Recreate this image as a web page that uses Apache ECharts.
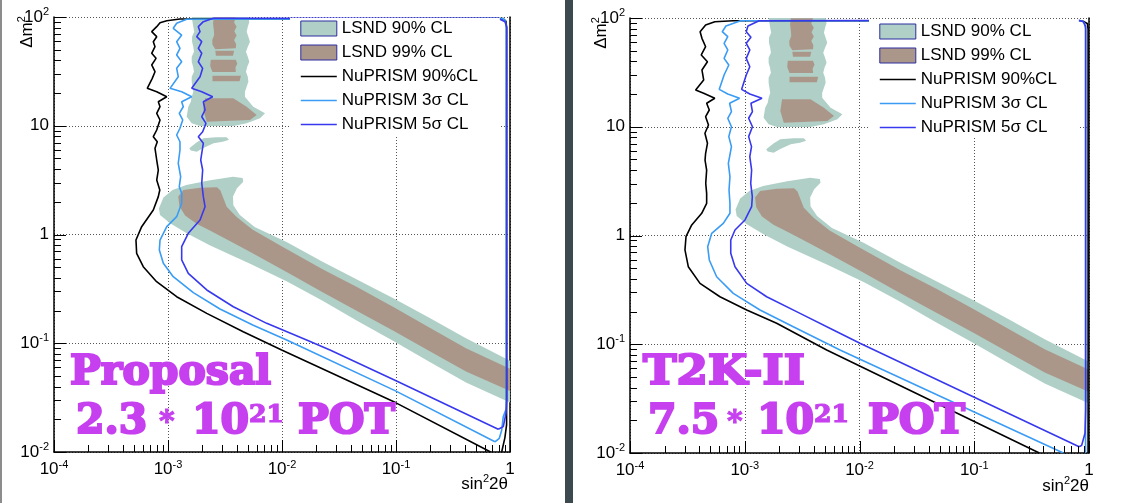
<!DOCTYPE html>
<html><head><meta charset="utf-8">
<script src="https://cdn.jsdelivr.net/npm/echarts@6/dist/echarts.min.js"></script>
<style>html,body{margin:0;padding:0;background:#fff}#c{width:1138px;height:503px}</style>
</head><body><div id="c"></div>
<script>
// ===== DATA : points are [log10(sin²2θ), log10(Δm²)] =====
const xTickValues = [1e-4, 1e-3, 1e-2, 1e-1, 1];
const xTickBase = ['10', '10', '10', '10', '1'];
const xTickExp = ['-4', '-3', '-2', '-1', ''];
const yTickValues = [1e-2, 1e-1, 1, 10, 100];
const yTickBase = ['10', '10', '1', '10', '10'];
const yTickExp = ['-2', '-1', '', '', '2'];
const minorMultipliers = [2, 3, 4, 5, 6, 7, 8, 9];
const seriesNames = ['LSND 90% CL', 'LSND 99% CL', 'NuPRISM 90%CL', 'NuPRISM 3σ CL', 'NuPRISM 5σ CL'];
const panelTitle = ['Proposal', 'T2K-II'];
const panelPotMantissa = ['2.3', '7.5'];
const panelPotExp = ['21', '21'];

// LSND allowed regions (same in both panels)
const lsnd90Upper = [[-2.792,2.0],[-2.295,2.0],[-2.287,1.955],[-2.300,1.911],[-2.31,1.865],[-2.295,1.819],[-2.281,1.773],[-2.300,1.727],[-2.316,1.681],[-2.30,1.635],[-2.287,1.589],[-2.305,1.543],[-2.316,1.497],[-2.30,1.451],[-2.295,1.405],[-2.31,1.359],[-2.325,1.313],[-2.325,1.267],[-2.252,1.175],[-2.149,1.114],[-2.193,1.068],[-2.31,1.022],[-2.427,0.998],[-2.719,0.998],[-2.792,1.022],[-2.836,1.083],[-2.822,1.175],[-2.800,1.221],[-2.792,1.267],[-2.778,1.313],[-2.785,1.359],[-2.792,1.405],[-2.792,1.451],[-2.772,1.497],[-2.780,1.543],[-2.792,1.589],[-2.792,1.635],[-2.772,1.681],[-2.778,1.727],[-2.789,1.773],[-2.789,1.819],[-2.770,1.865],[-2.778,1.911],[-2.785,1.955]];
const lsnd90Island = [[-2.813,0.793],[-2.75,0.845],[-2.69,0.885],[-2.58,0.895],[-2.485,0.894],[-2.465,0.872],[-2.52,0.852],[-2.60,0.838],[-2.69,0.795],[-2.748,0.761],[-2.80,0.772]];
const lsnd90Lower = [[-3.08,0.24],[-3.04,0.34],[-2.96,0.41],[-2.84,0.455],[-2.63,0.50],[-2.43,0.53],[-2.345,0.52],[-2.34,0.485],[-2.395,0.425],[-2.43,0.35],[-2.427,0.27],[-2.37,0.18],[-2.24,0.07],[-1.96,-0.07],[-1.644,-0.25],[-1.33,-0.42],[-1.015,-0.59],[-0.70,-0.77],[-0.386,-0.955],[0,-1.16],[0,-1.545],[-0.386,-1.36],[-0.70,-1.175],[-1.015,-0.985],[-1.33,-0.80],[-1.644,-0.61],[-1.96,-0.43],[-2.28,-0.27],[-2.63,-0.10],[-2.836,0.011],[-2.982,0.103],[-3.07,0.179]];
const lsnd99UpperA = [[-2.598,1.997],[-2.405,1.997],[-2.420,1.95],[-2.398,1.911],[-2.418,1.87],[-2.398,1.83],[-2.420,1.789],[-2.402,1.75],[-2.405,1.712],[-2.585,1.703],[-2.610,1.745],[-2.612,1.789],[-2.595,1.835],[-2.598,1.880],[-2.605,1.94]];
const lsnd99UpperB = [[-2.585,1.690],[-2.42,1.690],[-2.43,1.643],[-2.58,1.643]];
const lsnd99UpperC = [[-2.625,1.607],[-2.405,1.607],[-2.392,1.57],[-2.408,1.535],[-2.405,1.495],[-2.61,1.495],[-2.63,1.55]];
const lsnd99UpperD = [[-2.610,1.460],[-2.360,1.460],[-2.372,1.410],[-2.61,1.410]];
const lsnd99UpperE = [[-2.675,1.252],[-2.427,1.252],[-2.31,1.175],[-2.222,1.099],[-2.281,1.053],[-2.66,1.037],[-2.69,1.145]];
const lsnd99Lower = [[-2.91,0.35],[-2.866,0.41],[-2.72,0.43],[-2.57,0.434],[-2.54,0.405],[-2.52,0.35],[-2.485,0.256],[-2.40,0.164],[-2.26,0.045],[-2.0,-0.11],[-1.644,-0.32],[-1.33,-0.49],[-1.015,-0.672],[-0.70,-0.86],[-0.386,-1.045],[0,-1.235],[0,-1.44],[-0.386,-1.26],[-0.70,-1.075],[-1.015,-0.89],[-1.33,-0.71],[-1.644,-0.53],[-1.96,-0.345],[-2.27,-0.165],[-2.45,-0.065],[-2.62,0.03],[-2.75,0.10],[-2.85,0.175],[-2.9,0.26]];

// NuPRISM sensitivity contours, left panel (Proposal 2.3e21 POT)
const black90L = [[-0.17,-2.0],[-1.0,-1.548],[-2.003,-1.062],[-2.34,-0.894],[-2.66,-0.725],[-2.924,-0.572],[-3.10,-0.434],[-3.217,-0.296],[-3.275,-0.173],[-3.281,-0.051],[-3.231,0.072],[-3.129,0.225],[-3.085,0.348],[-3.072,0.409],[-3.099,0.501],[-3.085,0.593],[-3.099,0.685],[-3.114,0.793],[-3.094,0.853],[-3.129,0.899],[-3.099,0.961],[-3.07,1.053],[-3.099,1.114],[-3.07,1.175],[-3.085,1.221],[-3.011,1.267],[-3.099,1.313],[-3.182,1.344],[-3.138,1.436],[-3.114,1.497],[-3.143,1.559],[-3.105,1.620],[-3.143,1.666],[-3.114,1.727],[-3.129,1.773],[-3.099,1.819],[-3.143,1.865],[-3.099,1.911],[-3.07,1.948],[-3.011,1.966],[-2.895,1.982],[-0.06,1.985],[-0.035,1.96],[-0.03,1.9],[-0.03,-1.75],[-0.045,-1.87],[-0.073,-2.0]];
const light3L = [[-0.132,-1.906],[-1.0,-1.44],[-1.959,-0.97],[-2.252,-0.835],[-2.544,-0.685],[-2.778,-0.535],[-2.954,-0.388],[-3.041,-0.265],[-3.076,-0.143],[-3.070,-0.051],[-3.011,0.072],[-2.924,0.164],[-2.880,0.287],[-2.880,0.379],[-2.901,0.44],[-2.889,0.532],[-2.910,0.655],[-2.895,0.777],[-2.895,0.853],[-2.924,0.915],[-2.895,0.977],[-2.871,1.053],[-2.901,1.114],[-2.866,1.175],[-2.880,1.221],[-2.792,1.267],[-2.880,1.313],[-2.982,1.344],[-2.910,1.451],[-2.924,1.528],[-2.880,1.589],[-2.924,1.651],[-2.895,1.712],[-2.924,1.773],[-2.880,1.834],[-2.954,1.896],[-2.924,1.942],[-2.836,1.979],[-0.06,1.985],[-0.04,1.96],[-0.032,1.9],[-0.032,-1.6],[-0.059,-1.675],[-0.073,-1.8],[-0.094,-1.874],[-0.132,-1.906]];
const blue5L = [[-0.103,-1.791],[-1.0,-1.345],[-1.579,-1.062],[-1.784,-0.970],[-2.134,-0.817],[-2.427,-0.664],[-2.660,-0.510],[-2.822,-0.357],[-2.880,-0.234],[-2.880,-0.112],[-2.822,0.011],[-2.719,0.133],[-2.675,0.256],[-2.690,0.348],[-2.704,0.471],[-2.696,0.593],[-2.713,0.685],[-2.704,0.747],[-2.690,0.839],[-2.734,0.899],[-2.696,0.945],[-2.667,1.022],[-2.704,1.083],[-2.675,1.145],[-2.690,1.221],[-2.608,1.267],[-2.704,1.313],[-2.792,1.344],[-2.719,1.451],[-2.696,1.528],[-2.734,1.589],[-2.704,1.666],[-2.734,1.712],[-2.704,1.773],[-2.748,1.819],[-2.719,1.865],[-2.734,1.911],[-2.690,1.957],[-2.603,1.988],[-0.105,1.988],[-0.044,1.957],[-0.029,1.911],[-0.029,-1.52],[-0.035,-1.644],[-0.059,-1.767],[-0.103,-1.791]];

// NuPRISM sensitivity contours, right panel (T2K-II 7.5e21 POT)
const black90R = [[-0.433,-2.0],[-1.0,-1.71],[-2.286,-1.053],[-2.722,-0.807],[-2.983,-0.685],[-3.216,-0.563],[-3.390,-0.440],[-3.492,-0.287],[-3.521,-0.133],[-3.512,-0.011],[-3.462,0.097],[-3.375,0.204],[-3.332,0.296],[-3.332,0.388],[-3.340,0.480],[-3.332,0.602],[-3.346,0.694],[-3.341,0.756],[-3.325,0.848],[-3.347,0.940],[-3.316,1.016],[-3.341,1.093],[-3.309,1.154],[-3.332,1.216],[-3.261,1.262],[-3.358,1.308],[-3.428,1.338],[-3.358,1.430],[-3.373,1.522],[-3.325,1.598],[-3.379,1.660],[-3.341,1.736],[-3.373,1.813],[-3.389,1.874],[-3.341,1.936],[-3.261,1.966],[-3.101,1.975],[-0.06,1.975],[-0.015,1.95],[-0.008,1.9],[-0.008,-2.0]];
const light3R = [[-0.224,-2.0],[-1.0,-1.623],[-2.170,-1.053],[-2.577,-0.839],[-2.867,-0.685],[-3.100,-0.532],[-3.245,-0.379],[-3.309,-0.225],[-3.323,-0.103],[-3.288,0.020],[-3.187,0.112],[-3.129,0.204],[-3.129,0.296],[-3.137,0.418],[-3.129,0.541],[-3.143,0.664],[-3.132,0.725],[-3.116,0.817],[-3.139,0.909],[-3.116,1.0],[-3.148,1.078],[-3.116,1.139],[-3.132,1.216],[-3.045,1.262],[-3.148,1.301],[-3.222,1.344],[-3.180,1.476],[-3.139,1.568],[-3.180,1.629],[-3.148,1.706],[-3.180,1.767],[-3.148,1.828],[-3.196,1.874],[-3.164,1.926],[-3.036,1.975],[-0.06,1.975],[-0.04,1.955],[-0.03,1.9],[-0.03,-2.0]];
const blue5R = [[-0.086,-1.942],[-1.0,-1.487],[-1.996,-0.991],[-2.228,-0.869],[-2.518,-0.716],[-2.809,-0.563],[-2.983,-0.440],[-3.085,-0.287],[-3.122,-0.164],[-3.122,-0.041],[-3.085,0.051],[-2.998,0.143],[-2.940,0.265],[-2.934,0.357],[-2.948,0.480],[-2.940,0.602],[-2.956,0.725],[-2.941,0.817],[-2.966,0.909],[-2.933,1.0],[-2.966,1.078],[-2.933,1.139],[-2.946,1.216],[-2.850,1.262],[-2.956,1.301],[-3.027,1.344],[-2.987,1.476],[-2.956,1.552],[-2.987,1.629],[-2.956,1.706],[-2.987,1.767],[-2.946,1.822],[-2.987,1.874],[-2.972,1.926],[-2.875,1.975],[-0.093,1.982],[-0.05,1.966],[-0.029,1.92],[-0.029,-1.605],[-0.035,-1.819],[-0.064,-1.93],[-0.086,-1.942]];

// ===== STYLE / LAYOUT =====
const FONT = 'Liberation Sans';
const C90 = '#b0d0c7', C99 = '#ab978a', CBLK = '#000000', CLB = '#3a9cf4', CBL = '#3838ee';
const PURPLE = '#c640ef';
const lsnd90Polys = [lsnd90Upper, lsnd90Island, lsnd90Lower];
const lsnd99Polys = [lsnd99UpperA, lsnd99UpperB, lsnd99UpperC, lsnd99UpperD, lsnd99UpperE, lsnd99Lower];
const panels = [
  {black: black90L, light: light3L, blue: blue5L},
  {black: black90R, light: light3R, blue: blue5R}
];
const grids = [
  {left: 54, top: 17, width: 456, height: 435},
  {left: 630, top: 18, width: 459, height: 435}
];
const p10 = v => Math.pow(10, v);
const toXY = pts => pts.map(p => [p10(p[0]), p10(p[1])]);
function minorOf(majors) {
  const out = [];
  for (let i = 0; i < majors.length - 1; i++) minorMultipliers.forEach(m => out.push(m * majors[i]));
  return out;
}
const xMinorTicks = minorOf(xTickValues), yMinorTicks = minorOf(yTickValues);

const richLbl = {
  b: {fontSize: 17, lineHeight: 21, fontFamily: FONT, color: '#000'},
  s: {fontSize: 11, lineHeight: 11, fontFamily: FONT, color: '#000', verticalAlign: 'top'}
};
function fmt(vals, base, exp) {
  return function (v) {
    const e = Math.round(Math.log10(v));
    const i = vals.findIndex(t => Math.round(Math.log10(t)) === e);
    if (i < 0) return '';
    return exp[i] ? '{b|' + base[i] + '}{s|' + exp[i] + '}' : '{b|' + base[i] + '}';
  };
}
const gridLine = {show: true, lineStyle: {color: '#555', width: 1, type: [1, 2]}};
function majorX(g) {
  return {type: 'log', logBase: 10, gridIndex: g, min: xTickValues[0], max: xTickValues[4], splitNumber: 4, position: 'bottom',
    axisLine: {show: true, onZero: false, lineStyle: {color: '#000', width: 1.5}},
    axisTick: {show: false}, minorTick: {show: false},
    axisLabel: {show: true, margin: 7, interval: 0, showMinLabel: true, showMaxLabel: true, formatter: fmt(xTickValues, xTickBase, xTickExp), rich: richLbl},
    splitLine: gridLine, minorSplitLine: {show: false}};
}
function majorY(g) {
  return {type: 'log', logBase: 10, gridIndex: g, min: yTickValues[0], max: yTickValues[4], splitNumber: 4, position: 'left',
    axisLine: {show: true, onZero: false, lineStyle: {color: '#000', width: 1.5}},
    axisTick: {show: false}, minorTick: {show: false},
    axisLabel: {show: true, margin: 5, interval: 0, showMinLabel: true, showMaxLabel: true, formatter: fmt(yTickValues, yTickBase, yTickExp), rich: richLbl},
    splitLine: gridLine, minorSplitLine: {show: false}};
}
function frameY(g) {
  return {type: 'value', gridIndex: g, min: 0, max: 1, position: 'right',
    axisLine: {show: true, onZero: false, lineStyle: {color: '#000', width: 1.5}},
    axisTick: {show: false}, axisLabel: {show: false}, splitLine: {show: false}};
}

function polySeries(name, polys, color, xi, yi) {
  return {
    type: 'custom', name: name, xAxisIndex: xi, yAxisIndex: yi, silent: true, clip: true, z: 1,
    itemStyle: {color: color},
    data: polys.map((p, i) => [p10(p[0][0]), p10(p[0][1]), i]),
    renderItem: function (params, api) {
      const poly = polys[api.value(2)];
      const pts = poly.map(pt => api.coord([p10(pt[0]), p10(pt[1])]));
      return {type: 'polygon', shape: {points: pts}, style: {fill: color}};
    }
  };
}
function lineSeries(name, pts, color, xi, yi) {
  return {type: 'line', name: name, xAxisIndex: xi, yAxisIndex: yi, data: toXY(pts),
    showSymbol: false, symbol: 'none', silent: true, clip: true, z: 3,
    lineStyle: {color: color, width: 1.6}, itemStyle: {color: color}};
}

const series = [];
panels.forEach((pn, k) => {
  const xi = k, yi = k * 2;
  series.push(polySeries(seriesNames[0], lsnd90Polys, C90, xi, yi));
  series.push(polySeries(seriesNames[1], lsnd99Polys, C99, xi, yi));
  series.push(lineSeries(seriesNames[2], pn.black, CBLK, xi, yi));
  series.push(lineSeries(seriesNames[3], pn.light, CLB, xi, yi));
  series.push(lineSeries(seriesNames[4], pn.blue, CBL, xi, yi));
});

const legendData = [
  {name: seriesNames[0], icon: 'rect', itemStyle: {color: C90, borderColor: '#2c2ca0', borderWidth: 1}},
  {name: seriesNames[1], icon: 'rect', itemStyle: {color: C99, borderColor: '#2c2ca0', borderWidth: 1}},
  {name: seriesNames[2], itemStyle: {opacity: 0}, lineStyle: {width: 1.6}},
  {name: seriesNames[3], itemStyle: {opacity: 0}, lineStyle: {width: 1.6}},
  {name: seriesNames[4], itemStyle: {opacity: 0}, lineStyle: {width: 1.6}}
];
function legend(left, top, padTop) {
  return {left: left, top: top, orient: 'vertical', padding: [padTop, 22, 2, 10], backgroundColor: '#fff',
    itemWidth: 36, itemHeight: 15, itemGap: 7, selectedMode: false, z: 10,
    textStyle: {fontSize: 17, fontFamily: FONT, color: '#000'}, data: legendData};
}

const BIG = 'bold 41px "DejaVu Serif"';
function txt(x, y, text, font, lw, extra) {
  return Object.assign({type: 'text', x: x, y: y, z: 100, silent: true,
    style: {text: text, font: font, fill: PURPLE, stroke: PURPLE, lineWidth: lw, align: 'left', textAlign: 'left', verticalAlign: 'middle', textVerticalAlign: 'middle'}}, extra || {});
}
const richAxisName = {
  a: {fontSize: 17, lineHeight: 21, fontFamily: FONT, fill: '#000'},
  s: {fontSize: 11, lineHeight: 11, fontFamily: FONT, fill: '#000', verticalAlign: 'top'}
};
function axisTitle(x, y, text, align, rot) {
  return {type: 'text', x: x, y: y, rotation: rot || 0, z: 100, silent: true,
    style: {text: text, rich: richAxisName, align: align, textAlign: align, verticalAlign: 'middle', textVerticalAlign: 'middle'}};
}
const potOffsets = [
  {x0: 70, x2: 76, star: 159, ten: 192, sup: 249, pot: 298, sc1: 1.0},
  {x0: 643, x2: 648, star: 727, ten: 757, sup: 814, pot: 868, sc1: 1.1}
];
const graphic = [
  {type: 'rect', shape: {x: 0, y: 0, width: 2, height: 503}, style: {fill: '#8c8c8c'}, z: 100, silent: true},
  {type: 'rect', shape: {x: 565, y: 0, width: 8, height: 503}, style: {fill: '#3c4a4f'}, z: 100, silent: true},
  axisTitle(508, 484, '{a|sin}{s|2}{a|2θ}', 'right'),
  axisTitle(1089, 486, '{a|sin}{s|2}{a|2θ}', 'right'),
  axisTitle(27, 32, '{a|Δm}{s|2}', 'center', Math.PI / 2),
  axisTitle(601, 33, '{a|Δm}{s|2}', 'center', Math.PI / 2)
];
potOffsets.forEach((o, k) => {
  graphic.push(txt(o.x0, 373, panelTitle[k], BIG, 2.2, {scaleX: o.sc1}));
  graphic.push(txt(o.x2, 422.5, panelPotMantissa[k], BIG, 2.2));
  graphic.push(txt(o.star, 423, '*', 'bold 30px "DejaVu Serif"', 1));
  graphic.push(txt(o.ten, 422.5, '10', BIG, 2.2));
  graphic.push(txt(o.sup, 416, panelPotExp[k], 'bold 24px "DejaVu Serif"', 1.2, {scaleX: 1.05}));
  graphic.push(txt(o.pot, 422.5, 'POT', BIG, 2.2));
});

const chart = echarts.init(document.getElementById('c'), null, {renderer: 'canvas'});
chart.setOption({
  animation: false,
  backgroundColor: '#ffffff',
  grid: grids,
  xAxis: [majorX(0), majorX(1)],
  yAxis: [majorY(0), frameY(0), majorY(1), frameY(1)],
  legend: [legend(290, 18, 2), legend(869, 19, 4)],
  series: series,
  graphic: graphic
});

// Tick marks (ROOT style, inside the frame); positions come from the chart's own axis scales
const tickGraphics = [];
const toNum = r => (Array.isArray(r) ? r[0] : r);
[0, 1].forEach(k => {
  const g = grids[k];
  const bottom = g.top + g.height, left = g.left;
  const addX = (v, len) => {
    let x = toNum(chart.convertToPixel({xAxisIndex: k}, v));
    if (typeof x !== 'number' || !isFinite(x)) return;
    x = Math.round(x);
    tickGraphics.push({type: 'line', shape: {x1: x + 0.5, y1: bottom, x2: x + 0.5, y2: bottom - len}, style: {stroke: '#000', lineWidth: 1}, z: 95, silent: true});
  };
  const addY = (v, len) => {
    let y = chart.convertToPixel({yAxisIndex: k * 2}, v);
    y = Array.isArray(y) ? y[1] : y;
    if (typeof y !== 'number' || !isFinite(y)) return;
    y = Math.round(y);
    tickGraphics.push({type: 'line', shape: {x1: left, y1: y + 0.5, x2: left + len, y2: y + 0.5}, style: {stroke: '#000', lineWidth: 1}, z: 95, silent: true});
  };
  xTickValues.forEach(v => addX(v, 12)); xMinorTicks.forEach(v => addX(v, 7));
  yTickValues.forEach(v => addY(v, 12)); yMinorTicks.forEach(v => addY(v, 7));
});
chart.setOption({graphic: graphic.concat(tickGraphics)});
</script>
</body></html>
